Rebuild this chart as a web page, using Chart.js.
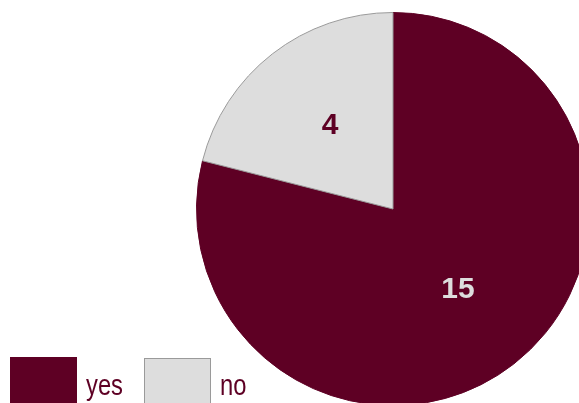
<!DOCTYPE html>
<html>
<head>
<meta charset="utf-8">
<script src="https://cdn.jsdelivr.net/npm/chart.js@4/dist/chart.umd.min.js"></script>
<style>
  html, body { margin: 0; padding: 0; width: 579px; height: 403px; overflow: hidden; background: #fff; }
  #wrap { position: relative; width: 579px; height: 403px; overflow: hidden; }
  #c { position: absolute; left: 0; top: 0; }
  .sw { position: absolute; box-sizing: border-box; width: 67px; height: 60px; }
  .lt { position: absolute; font-family: 'Liberation Sans', Arial, sans-serif; font-size: 29px; color: #5E0024; line-height: 1; transform: scaleX(0.82); transform-origin: 0 0; white-space: nowrap; }
</style>
</head>
<body>
<div id="wrap">
  <canvas id="c" width="620" height="440"></canvas>
</div>
<script>
const categories = ['yes', 'no'];
const values = [15, 4];
const sliceColors = ['#5E0024', '#DDDDDD'];
const sliceBorders = ['#5E0024', '#9A9A9A'];
const labelColors = ['#DDDDDD', '#5E0024'];

const labelPlugin = {
  id: 'sliceLabels',
  afterDatasetsDraw(chart) {
    const ctx = chart.ctx;
    const meta = chart.getDatasetMeta(0);
    ctx.save();
    ctx.font = 'bold 30px "Liberation Sans", Arial, sans-serif';
    ctx.textAlign = 'center';
    ctx.textBaseline = 'middle';
    meta.data.forEach((arc, i) => {
      const p = arc.getProps(['x', 'y', 'startAngle', 'endAngle', 'outerRadius'], true);
      const mid = (p.startAngle + p.endAngle) / 2;
      const r = p.outerRadius * 0.53;
      ctx.fillStyle = labelColors[i];
      ctx.fillText(String(chart.data.datasets[0].data[i]), p.x + Math.cos(mid) * r + 1, p.y + Math.sin(mid) * r - 1);
    });
    ctx.restore();
  }
};

new Chart(document.getElementById('c'), {
  type: 'pie',
  data: {
    labels: categories,
    datasets: [{
      data: values,
      backgroundColor: sliceColors,
      borderColor: sliceBorders,
      borderWidth: 1
    }]
  },
  options: {
    responsive: false,
    animation: false,
    devicePixelRatio: 1,
    layout: { padding: { left: 196, top: 12, right: 30, bottom: 34 } },
    plugins: {
      legend: { display: false },
      tooltip: { enabled: false }
    }
  },
  plugins: [labelPlugin]
});

// legend built from the same arrays
const wrap = document.getElementById('wrap');
const legendX = [10, 144];
const legendTextX = [86, 220];
categories.forEach((name, i) => {
  const sw = document.createElement('div');
  sw.className = 'sw';
  sw.style.left = legendX[i] + 'px';
  sw.style.top = (357 + i) + 'px';
  sw.style.background = sliceColors[i];
  sw.style.border = '1px solid ' + (i === 0 ? '#5E0024' : '#9A9A9A');
  wrap.appendChild(sw);
  const t = document.createElement('div');
  t.className = 'lt';
  t.textContent = name;
  t.style.left = legendTextX[i] + 'px';
  t.style.top = '371px';
  wrap.appendChild(t);
});
</script>
</body>
</html>
